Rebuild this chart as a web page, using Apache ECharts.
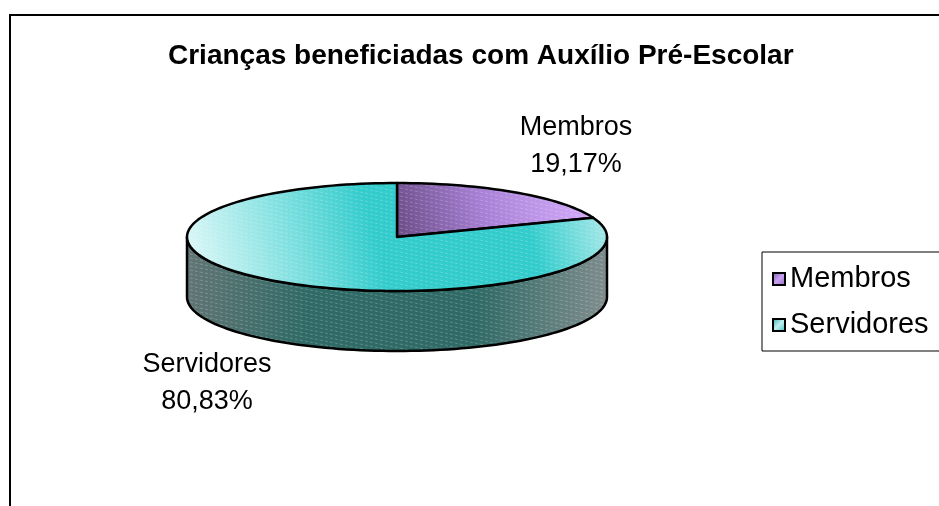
<!DOCTYPE html>
<html>
<head>
<meta charset="utf-8">
<title>Crianças beneficiadas com Auxílio Pré-Escolar</title>
<script src="https://cdn.jsdelivr.net/npm/echarts@6/dist/echarts.min.js"></script>
<style>
  html, body { margin: 0; padding: 0; background: #fff; }
  #chart { width: 939px; height: 506px; }
</style>
</head>
<body>
<div id="chart"></div>
<script>
// dados
const categories = ['Membros', 'Servidores'];
const shares = [19.17, 80.83];
const shareLabels = ['19,17%', '80,83%'];

// layout do "pie 3D" (elipse)
const CX = 397;
const CY = 237;
const RX = 210;
const RY = 54;
const DEPTH = 60;
const FONT = '"Liberation Sans", Arial, sans-serif';
const labelPos = [[576, 146], [207, 383]];

const topFills = [
  {
    type: 'linear', x: 0, y: 1, x2: 1, y2: 0,
    colorStops: [
      { offset: 0, color: '#6a4c86' },
      { offset: 0.45, color: '#a880d6' },
      { offset: 1, color: '#d8b0ff' },
    ],
  },
  {
    type: 'linear', x: 0, y: 1, x2: 1, y2: 0,
    colorStops: [
      { offset: 0, color: '#e6fafa' },
      { offset: 0.45, color: '#33cccc' },
      { offset: 0.8, color: '#33cccc' },
      { offset: 1, color: '#b8ecec' },
    ],
  },
];
const sideFills = [
  {
    type: 'linear', x: 0, y: 0, x2: 1, y2: 0,
    colorStops: [
      { offset: 0, color: '#4f4066' },
      { offset: 1, color: '#6a5688' },
    ],
  },
  {
    type: 'linear', x: 0, y: 0, x2: 1, y2: 0.3,
    colorStops: [
      { offset: 0, color: '#637575' },
      { offset: 0.3, color: '#2f6a66' },
      { offset: 0.7, color: '#2f6a66' },
      { offset: 1, color: '#7e8c8c' },
    ],
  },
];
const legendFills = [
  {
    type: 'linear', x: 0, y: 0, x2: 1, y2: 1,
    colorStops: [
      { offset: 0, color: '#7a5a9e' },
      { offset: 0.5, color: '#c9a0f5' },
      { offset: 1, color: '#8c6bb0' },
    ],
  },
  {
    type: 'linear', x: 0, y: 0, x2: 1, y2: 1,
    colorStops: [
      { offset: 0, color: '#2aa8a8' },
      { offset: 0.5, color: '#bff0f0' },
      { offset: 1, color: '#33bbbb' },
    ],
  },
];

// textura de tracejado leve por cima
function hatchPattern() {
  const c = document.createElement('canvas');
  c.width = 20;
  c.height = 20;
  const ctx = c.getContext('2d');
  ctx.strokeStyle = 'rgba(255,255,255,0.22)';
  ctx.lineWidth = 1;
  ctx.setLineDash([3, 2]);
  for (let y = -20; y < 40; y += 4) {
    ctx.beginPath();
    ctx.moveTo(0, y);
    ctx.lineTo(20, y + 4);
    ctx.stroke();
  }
  return { image: c, repeat: 'repeat' };
}
const hatch = hatchPattern();

const startAngles = [];
let acc = 0;
shares.forEach(v => {
  startAngles.push(acc);
  acc += (v / 100) * 360;
});

function pt(deg, dy) {
  const r = (deg * Math.PI) / 180;
  return [CX + RX * Math.sin(r), CY - RY * Math.cos(r) + dy];
}

function arc(a0, a1, dy) {
  const pts = [];
  const n = Math.max(2, Math.ceil(Math.abs(a1 - a0) / 2));
  for (let k = 0; k <= n; k += 1) {
    pts.push(pt(a0 + ((a1 - a0) * k) / n, dy));
  }
  return pts;
}

function layer(points, fill) {
  return [
    { type: 'polygon', shape: { points }, style: { fill, stroke: null } },
    { type: 'polygon', silent: true, shape: { points }, style: { fill: hatch, stroke: null } },
    {
      type: 'polygon',
      shape: { points },
      style: { fill: null, stroke: '#000', lineWidth: 2.5, lineJoin: 'round' },
    },
  ];
}

function makeRender(i) {
  return function renderItem(params, api) {
    const value = api.value(0);
    const a0 = startAngles[i];
    const a1 = a0 + (value / 100) * 360;
    const children = [];
    // lateral visível (metade da frente)
    const s = Math.max(a0, 90);
    const e = Math.min(a1, 270);
    if (s < e) {
      const side = arc(s, e, 0).concat(arc(e, s, DEPTH));
      children.push(...layer(side, sideFills[i]));
    }
    // face de cima
    const top = [[CX, CY]].concat(arc(a0, a1, 0));
    children.push(...layer(top, topFills[i]));
    children.push({
      type: 'text',
      style: {
        text: `${categories[i]}\n${shareLabels[i]}`,
        x: labelPos[i][0],
        y: labelPos[i][1],
        align: 'center',
        verticalAlign: 'middle',
        fontSize: 27,
        lineHeight: 37,
        fontFamily: FONT,
        fill: '#000',
      },
    });
    return { type: 'group', children };
  };
}

const chart = echarts.init(document.getElementById('chart'));
const option = {
  backgroundColor: '#fff',
  animation: false,
  title: {
    text: 'Crianças beneficiadas com Auxílio Pré-Escolar',
    left: 168,
    top: 42,
    padding: 0,
    textStyle: {
      fontFamily: FONT,
      fontSize: 28,
      fontWeight: 'bold',
      color: '#000',
    },
  },
  legend: {
    orient: 'vertical',
    left: 762,
    top: 252,
    padding: [12, 12, 11, 10],
    itemGap: 16,
    itemWidth: 12,
    itemHeight: 12,
    icon: 'rect',
    borderColor: '#000',
    borderWidth: 1,
    backgroundColor: '#fff',
    textStyle: { fontFamily: FONT, fontSize: 29, lineHeight: 30, color: '#000' },
    data: categories.map((name, i) => ({
      name,
      itemStyle: { color: legendFills[i], borderColor: '#000', borderWidth: 2 },
    })),
  },
  graphic: [
    {
      type: 'rect',
      z: -10,
      silent: true,
      shape: { x: 10, y: 15, width: 1000, height: 600 },
      style: { fill: null, stroke: '#000', lineWidth: 2 },
    },
  ],
  series: categories.map((name, i) => ({
    type: 'custom',
    name,
    coordinateSystem: 'none',
    itemStyle: { color: legendFills[i] },
    renderItem: makeRender(i),
    data: [[shares[i]]],
  })),
};
chart.setOption(option);
</script>
</body>
</html>
